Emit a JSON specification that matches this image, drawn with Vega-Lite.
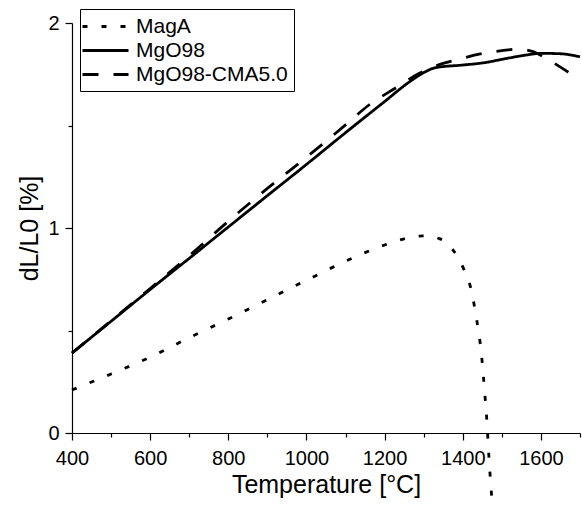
{
  "$schema": "https://vega.github.io/schema/vega-lite/v6.json",
  "width": 508,
  "height": 410,
  "autosize": {"type": "none"},
  "padding": {"left": 72, "top": 23, "right": 2, "bottom": 77},
  "background": "white",
  "config": {
    "view": {"stroke": null},
    "font": "Liberation Sans",
    "axis": {
      "domainColor": "black",
      "domainWidth": 1.2,
      "ticks": true,
      "tickColor": "black",
      "tickWidth": 1.2,
      "labelColor": "black",
      "labelFont": "Liberation Sans",
      "labelFontSize": 20,
      "titleColor": "black",
      "titleFont": "Liberation Sans",
      "titleFontSize": 25,
      "titleFontWeight": "normal",
      "grid": false
    }
  },
  "data": {
    "values": [
      {"s": "MagA", "T": 400, "v": 0.21},
      {"s": "MagA", "T": 500, "v": 0.288},
      {"s": "MagA", "T": 600, "v": 0.37},
      {"s": "MagA", "T": 700, "v": 0.465},
      {"s": "MagA", "T": 800, "v": 0.556},
      {"s": "MagA", "T": 900, "v": 0.65},
      {"s": "MagA", "T": 1000, "v": 0.745},
      {"s": "MagA", "T": 1100, "v": 0.838},
      {"s": "MagA", "T": 1200, "v": 0.917},
      {"s": "MagA", "T": 1250, "v": 0.947},
      {"s": "MagA", "T": 1300, "v": 0.962},
      {"s": "MagA", "T": 1340, "v": 0.948},
      {"s": "MagA", "T": 1370, "v": 0.905},
      {"s": "MagA", "T": 1400, "v": 0.81},
      {"s": "MagA", "T": 1420, "v": 0.71},
      {"s": "MagA", "T": 1435, "v": 0.56},
      {"s": "MagA", "T": 1448, "v": 0.38},
      {"s": "MagA", "T": 1456, "v": 0.2},
      {"s": "MagA", "T": 1462, "v": 0.05},
      {"s": "MagA", "T": 1467, "v": -0.12},
      {"s": "MagA", "T": 1474, "v": -0.31},
      {"s": "MgO98", "T": 400, "v": 0.39},
      {"s": "MgO98", "T": 500, "v": 0.545},
      {"s": "MgO98", "T": 600, "v": 0.7},
      {"s": "MgO98", "T": 700, "v": 0.852},
      {"s": "MgO98", "T": 800, "v": 1.005},
      {"s": "MgO98", "T": 900, "v": 1.158},
      {"s": "MgO98", "T": 1000, "v": 1.31},
      {"s": "MgO98", "T": 1100, "v": 1.465},
      {"s": "MgO98", "T": 1200, "v": 1.617},
      {"s": "MgO98", "T": 1260, "v": 1.708},
      {"s": "MgO98", "T": 1300, "v": 1.758},
      {"s": "MgO98", "T": 1330, "v": 1.782},
      {"s": "MgO98", "T": 1400, "v": 1.795},
      {"s": "MgO98", "T": 1450, "v": 1.805},
      {"s": "MgO98", "T": 1520, "v": 1.83},
      {"s": "MgO98", "T": 1560, "v": 1.843},
      {"s": "MgO98", "T": 1600, "v": 1.852},
      {"s": "MgO98", "T": 1650, "v": 1.85},
      {"s": "MgO98", "T": 1700, "v": 1.835},
      {"s": "MgO98-CMA5.0", "T": 400, "v": 0.39},
      {"s": "MgO98-CMA5.0", "T": 500, "v": 0.547},
      {"s": "MgO98-CMA5.0", "T": 600, "v": 0.705},
      {"s": "MgO98-CMA5.0", "T": 700, "v": 0.865},
      {"s": "MgO98-CMA5.0", "T": 800, "v": 1.033},
      {"s": "MgO98-CMA5.0", "T": 900, "v": 1.193},
      {"s": "MgO98-CMA5.0", "T": 1000, "v": 1.345},
      {"s": "MgO98-CMA5.0", "T": 1100, "v": 1.503},
      {"s": "MgO98-CMA5.0", "T": 1160, "v": 1.6},
      {"s": "MgO98-CMA5.0", "T": 1230, "v": 1.685},
      {"s": "MgO98-CMA5.0", "T": 1290, "v": 1.756},
      {"s": "MgO98-CMA5.0", "T": 1330, "v": 1.79},
      {"s": "MgO98-CMA5.0", "T": 1374, "v": 1.815},
      {"s": "MgO98-CMA5.0", "T": 1456, "v": 1.853},
      {"s": "MgO98-CMA5.0", "T": 1500, "v": 1.865},
      {"s": "MgO98-CMA5.0", "T": 1540, "v": 1.873},
      {"s": "MgO98-CMA5.0", "T": 1580, "v": 1.86},
      {"s": "MgO98-CMA5.0", "T": 1615, "v": 1.825},
      {"s": "MgO98-CMA5.0", "T": 1650, "v": 1.785},
      {"s": "MgO98-CMA5.0", "T": 1681, "v": 1.746},
      {"s": "MgO98-CMA5.0", "T": 1700, "v": 1.72}
    ]
  },
  "mark": {"type": "line", "clip": false, "strokeWidth": 2.8, "color": "black", "interpolate": "monotone"},
  "encoding": {
    "x": {
      "field": "T",
      "type": "quantitative",
      "scale": {"domain": [400, 1700], "nice": false, "zero": false},
      "axis": {
        "title": "Temperature [°C]",
        "values": [400, 500, 600, 700, 800, 900, 1000, 1100, 1200, 1300, 1400, 1500, 1600, 1700],
        "labelExpr": "datum.value % 200 === 0 ? format(datum.value, 'd') : ''",
        "tickSize": 7,
        "tickDash": {"condition": {"test": "datum.value % 200 === 0", "value": [8, 2]}, "value": [4, 10]},
        "labelPadding": 8,
        "labelOverlap": false,
        "labelFlush": false,
        "titlePadding": 4
      }
    },
    "y": {
      "field": "v",
      "type": "quantitative",
      "scale": {"domain": [0, 2], "nice": false},
      "axis": {
        "title": "dL/L0 [%]",
        "values": [0, 0.5, 1, 1.5, 2],
        "labelExpr": "datum.value % 1 === 0 ? format(datum.value, 'd') : ''",
        "tickSize": 7,
        "tickDash": {"condition": {"test": "datum.value % 1 === 0", "value": [8, 2]}, "value": [4, 10]},
        "labelPadding": 6,
        "labelOverlap": false,
        "labelFlush": false,
        "titlePadding": 5
      }
    },
    "strokeDash": {
      "field": "s",
      "type": "nominal",
      "scale": {"domain": ["MagA", "MgO98", "MgO98-CMA5.0"], "range": [[5, 14], [1, 0], [16, 15]]},
      "legend": {
        "title": null,
        "orient": "none",
        "legendX": 8,
        "legendY": -14,
        "symbolType": "M-2.3,0H2.3",
        "symbolSize": 400,
        "symbolOffset": 8,
        "symbolStrokeWidth": 2.8,
        "symbolStrokeColor": "black",
        "labelFontSize": 21,
        "labelFont": "Liberation Sans",
        "labelColor": "black",
        "labelLimit": 300,
        "labelOffset": 19,
        "strokeColor": "black",
        "padding": 6,
        "rowPadding": 2
      }
    }
  }
}
